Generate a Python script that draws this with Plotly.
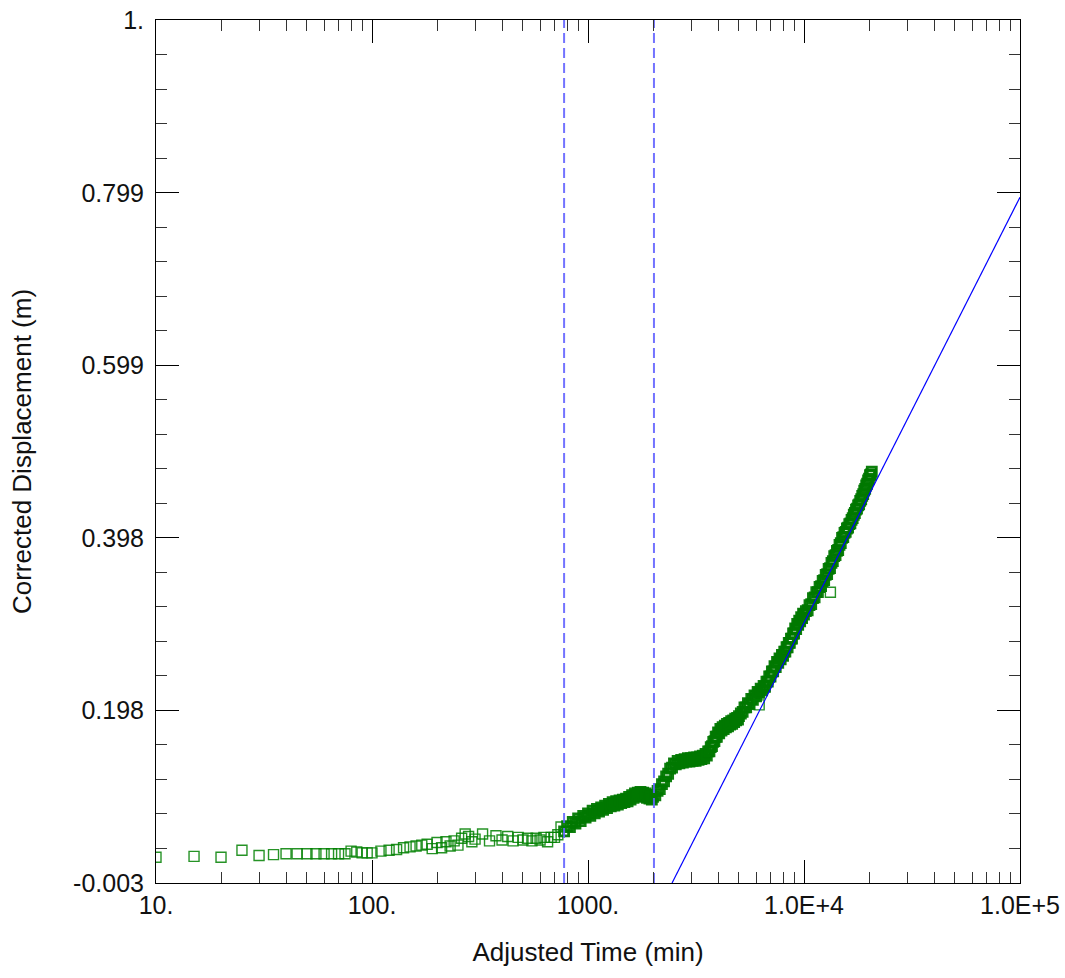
import plotly.graph_objects as go

# ---------------- data ----------------
# early / flat part of the record
time_early = [
    10, 15, 20, 25, 30, 35, 40, 45, 50, 55, 60, 65, 70, 75, 80, 85, 90, 95, 100,
    110, 120, 130, 140, 150, 160, 170, 180, 190, 200, 210, 220, 230, 240, 250, 260, 270, 280, 290,
    300, 325, 350, 375, 400, 425, 450, 475, 500, 525, 550, 575, 600, 625, 650, 675, 700, 725, 750,
]
disp_early = [
    0.027, 0.028, 0.027, 0.035, 0.029, 0.030, 0.031, 0.031, 0.031, 0.031, 0.031, 0.031, 0.031, 0.031, 0.034, 0.033, 0.032, 0.032, 0.032,
    0.034, 0.035, 0.036, 0.038, 0.039, 0.040, 0.041, 0.042, 0.037, 0.044, 0.038, 0.045, 0.040, 0.046, 0.041, 0.049, 0.054, 0.051, 0.045,
    0.048, 0.054, 0.046, 0.052, 0.047, 0.051, 0.046, 0.050, 0.047, 0.049, 0.046, 0.049, 0.047, 0.050, 0.045, 0.050, 0.050, 0.053, 0.062,
]

# 775 - 2000 min
time_a = [
    775, 800, 825, 850, 875, 900, 925, 950, 975, 1000, 1025, 1050, 1075, 1100, 1125, 1150, 1175, 1200,
    1225, 1250, 1275, 1300, 1325, 1350, 1375, 1400, 1425, 1450, 1475, 1500, 1525, 1550, 1575, 1600,
    1625, 1650, 1675, 1700, 1725, 1750, 1775, 1800, 1825, 1850, 1875, 1900, 1925, 1950, 1975, 2000,
]
disp_a = [
    0.057, 0.063, 0.062, 0.068, 0.066, 0.072, 0.069, 0.075, 0.073, 0.078, 0.075, 0.081, 0.078, 0.083, 0.080, 0.085, 0.082, 0.087,
    0.084, 0.089, 0.086, 0.091, 0.087, 0.092, 0.088, 0.093, 0.090, 0.094, 0.091, 0.095, 0.092, 0.097, 0.094, 0.099,
    0.096, 0.101, 0.098, 0.102, 0.099, 0.103, 0.099, 0.102, 0.097, 0.101, 0.096, 0.099, 0.095, 0.098, 0.094, 0.097,
]

# 2050 - 5000 min
time_b = [
    2050, 2100, 2150, 2200, 2250, 2300, 2350, 2400, 2450, 2500, 2550, 2600, 2650, 2700, 2750, 2800, 2850, 2900, 2950, 3000,
    3050, 3100, 3150, 3200, 3250, 3300, 3350, 3400, 3450, 3500, 3550, 3600, 3650, 3700, 3750, 3800, 3850, 3900, 3950, 4000,
    4050, 4100, 4150, 4200, 4250, 4300, 4350, 4400, 4450, 4500, 4550, 4600, 4650, 4700, 4750, 4800, 4850, 4900, 4950, 5000,
]
disp_b = [
    0.099, 0.104, 0.106, 0.112, 0.115, 0.121, 0.124, 0.130, 0.131, 0.136, 0.135, 0.139, 0.136, 0.140, 0.137, 0.141, 0.138, 0.142, 0.138, 0.142,
    0.139, 0.143, 0.139, 0.143, 0.140, 0.144, 0.141, 0.145, 0.142, 0.147, 0.145, 0.150, 0.150, 0.155, 0.156, 0.161, 0.162, 0.167, 0.167, 0.172,
    0.171, 0.176, 0.174, 0.178, 0.176, 0.180, 0.178, 0.182, 0.179, 0.183, 0.181, 0.185, 0.182, 0.186, 0.184, 0.188, 0.186, 0.189, 0.187, 0.191,
]

# 5100 - 10000 min
time_c = [
    5100, 5200, 5300, 5400, 5500, 5600, 5700, 5800, 5900, 6000, 6100, 6200, 6300, 6400, 6500, 6600, 6700, 6800, 6900, 7000,
    7100, 7200, 7300, 7400, 7500, 7600, 7700, 7800, 7900, 8000, 8100, 8200, 8300, 8400, 8500, 8600, 8700, 8800, 8900, 9000,
    9100, 9200, 9300, 9400, 9500, 9600, 9700, 9800, 9900, 10000,
]
disp_c = [
    0.194, 0.196, 0.201, 0.201, 0.206, 0.205, 0.211, 0.210, 0.215, 0.214, 0.219, 0.218, 0.223, 0.221, 0.226, 0.225, 0.231, 0.231, 0.237, 0.237,
    0.243, 0.243, 0.249, 0.248, 0.254, 0.253, 0.258, 0.257, 0.262, 0.261, 0.266, 0.266, 0.271, 0.271, 0.276, 0.276, 0.281, 0.281, 0.287, 0.287,
    0.293, 0.292, 0.298, 0.297, 0.302, 0.301, 0.306, 0.305, 0.310, 0.309,
]

# 10200 - 20600 min
time_d = [
    10200, 10400, 10600, 10800, 11000, 11200, 11400, 11600, 11800, 12000, 12200, 12400, 12600, 12800, 13000, 13200, 13400, 13600,
    13800, 14000, 14200, 14400, 14600, 14800, 15000, 15200, 15400, 15600, 15800, 16000, 16200, 16400, 16600, 16800, 17000, 17200,
    17400, 17600, 17800, 18000, 18200, 18400, 18600, 18800, 19000, 19200, 19400, 19600, 19800, 20000, 20200, 20400, 20600,
]
disp_d = [
    0.313, 0.314, 0.320, 0.321, 0.328, 0.329, 0.335, 0.335, 0.341, 0.342, 0.348, 0.349, 0.355, 0.356, 0.362, 0.363, 0.369, 0.371,
    0.377, 0.378, 0.383, 0.384, 0.390, 0.392, 0.398, 0.399, 0.404, 0.405, 0.409, 0.410, 0.414, 0.415, 0.419, 0.421, 0.425, 0.427,
    0.431, 0.432, 0.436, 0.437, 0.441, 0.443, 0.447, 0.449, 0.453, 0.455, 0.459, 0.461, 0.465, 0.467, 0.471, 0.472, 0.475,
]

# isolated stray readings visible beside the dense band
time_stray = [13250, 6200]
disp_stray = [0.335, 0.204]

# straight-line fit (end points)
fit_time = [2450, 100000]
fit_disp = [-0.003, 0.794]

# vertical dashed markers (time, min)
vline_times = [775, 2020]

# axis ticks
x_range_log = [1, 5]
y_min, y_max = -0.003, 1.0
x_tick_vals = [10, 100, 1000, 10000, 100000]
x_tick_text = ["10.", "100.", "1000.", "1.0E+4", "1.0E+5"]
y_tick_vals = [-0.003, 0.198, 0.398, 0.599, 0.799, 1.0]
y_tick_text = ["-0.003", "0.198", "0.398", "0.599", "0.799", "1."]

time_sparse = time_early + time_stray
disp_sparse = disp_early + disp_stray
time_dense = time_a + time_b + time_c + time_d
disp_dense = disp_a + disp_b + disp_c + disp_d

# ---------------- figure ----------------
FONT = "Liberation Sans, Arial, sans-serif"
GREEN = "rgba(0,128,0,0.85)"
fig = go.Figure()

# dense part of the record: overlapping open squares read as a solid band
fig.add_trace(go.Scatter(
    x=time_dense, y=disp_dense, mode="markers",
    marker=dict(symbol="square-open", size=9, color="rgba(0,120,0,0.95)",
                line=dict(width=2.8, color="rgba(0,120,0,0.95)")),
    showlegend=False,
))
fig.add_trace(go.Scatter(
    x=time_sparse, y=disp_sparse, mode="markers",
    marker=dict(symbol="square-open", size=10, color=GREEN, line=dict(width=1.4, color=GREEN)),
    showlegend=False,
))

fig.add_trace(go.Scatter(
    x=fit_time, y=fit_disp, mode="lines",
    line=dict(color="#0000ff", width=1.2), showlegend=False,
))

for t in vline_times:
    fig.add_trace(go.Scatter(
        x=[t, t], y=[y_min, y_max], mode="lines",
        line=dict(color="rgba(100,100,255,0.9)", width=2, dash="10px,5px"),
        showlegend=False,
    ))

minor_x = [m * 10 ** k for k in range(1, 5) for m in range(2, 10)]
y_step = (y_max - y_min) / 5

fig.update_xaxes(
    type="log", range=x_range_log, automargin=False,
    tickmode="array", tickvals=x_tick_vals, ticktext=x_tick_text,
    ticks="inside", ticklen=23, tickwidth=1, tickcolor="black",
    showline=True, linecolor="black", linewidth=1, mirror="ticks",
    showgrid=False, zeroline=False,
    minor=dict(tickmode="array", tickvals=minor_x, ticks="inside", ticklen=11,
               tickwidth=1, tickcolor="#333", showgrid=False),
    tickfont=dict(family=FONT, size=25, color="#111"),
    title=dict(text="Adjusted Time (min)", font=dict(family=FONT, size=26, color="#111"), standoff=24),
)
fig.update_yaxes(
    range=[y_min, y_max], automargin=False,
    tickmode="array", tickvals=y_tick_vals, ticktext=y_tick_text,
    ticks="inside", ticklen=23, tickwidth=1, tickcolor="black",
    showline=True, linecolor="black", linewidth=1, mirror="ticks",
    showgrid=False, zeroline=False,
    minor=dict(tick0=y_min, dtick=y_step / 5, ticks="inside", ticklen=11,
               tickwidth=1, tickcolor="#333", showgrid=False),
    tickfont=dict(family=FONT, size=25, color="#111"),
    ticklabelstandoff=6,
    title=dict(text="Corrected Displacement (m)", font=dict(family=FONT, size=26, color="#111"), standoff=34),
)

fig.update_layout(
    width=1065, height=978,
    margin=dict(l=156, r=45, t=20, b=95),
    paper_bgcolor="white", plot_bgcolor="white",
    font=dict(family=FONT),
)

fig.write_html("out.html")
